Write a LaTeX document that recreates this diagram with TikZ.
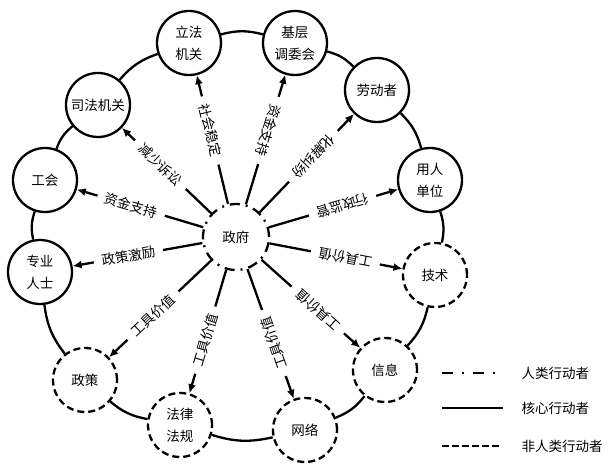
\documentclass[tikz,border=0pt]{standalone}
\usepackage{fontspec}
\setmainfont{Noto Sans CJK SC}
\usetikzlibrary{arrows.meta}
\tikzset{core/.style={circle,draw,line width=2.3pt,fill=white,minimum size=64pt,inner sep=0pt,align=center,font=\fontsize{13.5}{22}\selectfont},nonhuman/.style={core,dash pattern=on 7pt off 4pt},human/.style={core,minimum size=66pt,dash pattern=on 10pt off 6pt on 2pt off 6pt},arr/.style={{Latex[length=9pt,width=8pt]}-,line width=2.3pt},ring/.style={line width=2.3pt},lab/.style={font=\fontsize{13.5}{16}\selectfont,fill=white,inner xsep=8pt,inner ysep=1pt,sloped,allow upside down,pos=0.43},legtext/.style={anchor=west,font=\fontsize{13.5}{16}\selectfont}}

\begin{document}
\begin{tikzpicture}[x=1pt,y=1pt]
\useasboundingbox (-238,-231) rectangle (376,237);
\node[human] (gov) at (-2,0) {政府};
\node[core] (legis) at (-49,194) {立法\\机关};
\node[core] (mediate) at (57,194) {基层\\调委会};
\node[core] (worker) at (139,147) {劳动者};
\node[core] (employer) at (192,57) {用人\\单位};
\node[nonhuman] (tech) at (197,-38) {技术};
\node[nonhuman] (info) at (147,-133) {信息};
\node[nonhuman] (net) at (67,-193) {网络};
\node[nonhuman] (rules) at (-58,-188) {法律\\法规};
\node[nonhuman] (policy) at (-153,-143) {政策};
\node[core] (expert) at (-198,-35) {专业\\人士};
\node[core] (union) at (-193,57) {工会};
\node[core] (court) at (-140,132) {司法机关};
% outer ring
\draw[ring] (legis) to[bend left=15] (mediate);
\draw[ring] (mediate) to[bend left=15] (worker);
\draw[ring] (worker) to[bend left=15] (employer);
\draw[ring] (employer) to[bend left=15] (tech);
\draw[ring] (tech) to[bend left=15] (info);
\draw[ring] (info) to[bend left=15] (net);
\draw[ring] (net) to[bend left=15] (rules);
\draw[ring] (rules) to[bend left=15] (policy);
\draw[ring] (policy) to[bend left=15] (expert);
\draw[ring] (expert) to[bend left=15] (union);
\draw[ring] (union) to[bend left=15] (court);
\draw[ring] (court) to[bend left=15] (legis);
% government to actors
\draw[arr] (legis) -- node[lab] {社会稳定} (gov);
\draw[arr] (mediate) -- node[lab] {资金支持} (gov);
\draw[arr] (worker) -- node[lab] {化解纠纷} (gov);
\draw[arr] (employer) -- node[lab] {行政监管} (gov);
\draw[arr] (tech) -- node[lab] {工具价值} (gov);
\draw[arr] (info) -- node[lab] {工具价值} (gov);
\draw[arr] (net) -- node[lab] {工具价值} (gov);
\draw[arr] (rules) -- node[lab] {工具价值} (gov);
\draw[arr] (policy) -- node[lab] {工具价值} (gov);
\draw[arr] (expert) -- node[lab] {政策激励} (gov);
\draw[arr] (union) -- node[lab] {资金支持} (gov);
\draw[arr] (court) -- node[lab] {减少诉讼} (gov);
% legend
\node[legtext] (lgh) at (280,-136) {人类行动者};
\node[legtext] (lgc) at (280,-171) {核心行动者};
\node[legtext] (lgn) at (280,-209) {非人类行动者};
\draw[line width=2.3pt,dash pattern=on 11pt off 9pt on 2pt off 9pt] ([xshift=-76pt]lgh.west) -- ([xshift=-18pt]lgh.west);
\draw[line width=2.3pt] ([xshift=-76pt]lgc.west) -- ([xshift=-15pt]lgc.west);
\draw[line width=2.3pt,dash pattern=on 7pt off 3pt] ([xshift=-76pt]lgn.west) -- ([xshift=-16pt]lgn.west);
\end{tikzpicture}
\end{document}
